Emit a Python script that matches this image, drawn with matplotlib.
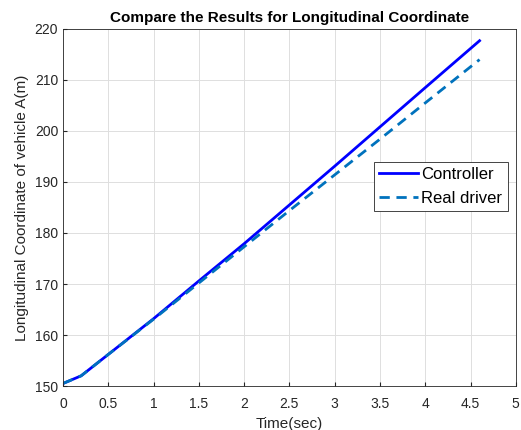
import numpy as np
import matplotlib.pyplot as plt

plt.rcParams['font.family'] = ['Liberation Sans', 'DejaVu Sans']

# Datos
t_ctrl = [0, 0.2, 0.5, 1.0, 1.5, 2.0, 2.5, 3.0, 3.5, 4.0, 4.6]
y_ctrl = [150.5, 152.0, 156.2, 163.2, 170.6, 177.9, 185.5, 193.1, 200.8, 208.5, 217.7]

t_real = [0, 0.2, 0.5, 1.0, 1.5, 2.0, 2.5, 3.0, 3.5, 4.0, 4.6]
y_real = [150.5, 152.0, 156.2, 163.1, 170.2, 177.3, 184.4, 191.4, 198.4, 205.5, 214.0]

xticks = np.arange(0, 5.01, 0.5)
xtick_labels = ['0', '0.5', '1', '1.5', '2', '2.5', '3', '3.5', '4', '4.5', '5']
yticks = np.arange(150, 221, 10)

fig = plt.figure(figsize=(5.21, 4.30), dpi=100)
ax = fig.add_axes([0.121, 0.1023, 0.869, 0.8303])

ax.plot(t_ctrl, y_ctrl, color=(0, 0, 1), lw=2, label='Controller')
ax.plot(t_real, y_real, color=(0, 0.447, 0.741), lw=2, ls=(0, (3.7, 2.4)),
        label='Real driver')

ax.set_xlim(0, 5)
ax.set_ylim(150, 220)
ax.set_xticks(xticks)
ax.set_xticklabels(xtick_labels)
ax.set_yticks(yticks)
ax.grid(True, color=(0.87, 0.87, 0.87), lw=0.7)
ax.set_axisbelow(True)
ax.tick_params(direction='in', labelsize=10, colors=(0.15, 0.15, 0.15), length=3)
ax.tick_params(axis='x', pad=8)
for s in ax.spines.values():
    s.set_color((0.15, 0.15, 0.15))
    s.set_linewidth(0.6)

ax.set_title('Compare the Results for Longitudinal Coordinate', fontsize=11, fontweight='bold', pad=5)
ax.set_xlabel('Time(sec)', fontsize=11, color=(0.15, 0.15, 0.15), labelpad=4.5)
ax.set_ylabel('Longitudinal Coordinate of vehicle A(m)', fontsize=11, color=(0.15, 0.15, 0.15), labelpad=4)

leg = ax.legend(loc='upper right', bbox_to_anchor=(0.982, 0.628), fontsize=12,
                fancybox=False, edgecolor=(0.15, 0.15, 0.15), framealpha=1,
                handlelength=2.3, handletextpad=0.2, borderpad=0.33, labelspacing=0.5,
                borderaxespad=0)
leg.get_frame().set_linewidth(0.6)

fig.savefig('out.png', dpi=100)
